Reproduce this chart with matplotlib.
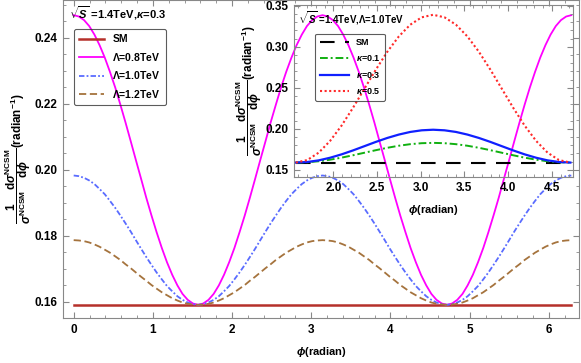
import matplotlib
matplotlib.use("Agg")
import matplotlib.pyplot as plt
from matplotlib.ticker import MultipleLocator

plt.rcParams['font.family'] = ['Liberation Sans', 'DejaVu Sans']
plt.rcParams['font.weight'] = 'bold'
plt.rcParams['mathtext.fontset'] = 'custom'
plt.rcParams['mathtext.rm'] = 'Liberation Sans:bold'
plt.rcParams['mathtext.it'] = 'Liberation Sans:italic:bold'
plt.rcParams['mathtext.bf'] = 'Liberation Sans:bold'

# phi values (radian)
phi = [0.000, 0.065, 0.131, 0.196, 0.262, 0.327, 0.393, 0.458, 0.524, 0.589, 0.654, 0.720,
       0.785, 0.851, 0.916, 0.982, 1.047, 1.113, 1.178, 1.244, 1.309, 1.374, 1.440, 1.505,
       1.571, 1.636, 1.702, 1.767, 1.833, 1.898, 1.963, 2.029, 2.094, 2.160, 2.225, 2.291,
       2.356, 2.422, 2.487, 2.553, 2.618, 2.683, 2.749, 2.814, 2.880, 2.945, 3.011, 3.076,
       3.142, 3.207, 3.272, 3.338, 3.403, 3.469, 3.534, 3.600, 3.665, 3.731, 3.796, 3.861,
       3.927, 3.992, 4.058, 4.123, 4.189, 4.254, 4.320, 4.385, 4.451, 4.516, 4.581, 4.647,
       4.712, 4.778, 4.843, 4.909, 4.974, 5.040, 5.105, 5.171, 5.236, 5.301, 5.367, 5.432,
       5.498, 5.563, 5.629, 5.694, 5.760, 5.825, 5.890, 5.956, 6.021, 6.087, 6.152, 6.218,
       6.283]

sm_main = [0.159] * len(phi)
lam08 = [0.2468, 0.2464, 0.2453, 0.2435, 0.2409, 0.2377, 0.2339, 0.2296, 0.2249, 0.2197, 0.2143, 0.2086,
         0.2029, 0.1972, 0.1915, 0.1861, 0.1810, 0.1762, 0.1719, 0.1681, 0.1649, 0.1623, 0.1605, 0.1594,
         0.1590, 0.1594, 0.1605, 0.1623, 0.1649, 0.1681, 0.1719, 0.1762, 0.1810, 0.1861, 0.1915, 0.1972,
         0.2029, 0.2086, 0.2143, 0.2197, 0.2249, 0.2296, 0.2339, 0.2377, 0.2409, 0.2435, 0.2453, 0.2464,
         0.2468, 0.2464, 0.2453, 0.2435, 0.2409, 0.2377, 0.2339, 0.2296, 0.2249, 0.2197, 0.2143, 0.2086,
         0.2029, 0.1972, 0.1915, 0.1861, 0.1810, 0.1762, 0.1719, 0.1681, 0.1649, 0.1623, 0.1605, 0.1594,
         0.1590, 0.1594, 0.1605, 0.1623, 0.1649, 0.1681, 0.1719, 0.1762, 0.1810, 0.1861, 0.1915, 0.1972,
         0.2029, 0.2086, 0.2143, 0.2197, 0.2249, 0.2296, 0.2339, 0.2377, 0.2409, 0.2435, 0.2453, 0.2464,
         0.2468]
lam10 = [0.1982, 0.1980, 0.1975, 0.1967, 0.1956, 0.1941, 0.1925, 0.1905, 0.1884, 0.1861, 0.1837, 0.1812,
         0.1786, 0.1760, 0.1735, 0.1711, 0.1688, 0.1667, 0.1647, 0.1631, 0.1616, 0.1605, 0.1597, 0.1592,
         0.1590, 0.1592, 0.1597, 0.1605, 0.1616, 0.1631, 0.1647, 0.1667, 0.1688, 0.1711, 0.1735, 0.1760,
         0.1786, 0.1812, 0.1837, 0.1861, 0.1884, 0.1905, 0.1925, 0.1941, 0.1956, 0.1967, 0.1975, 0.1980,
         0.1982, 0.1980, 0.1975, 0.1967, 0.1956, 0.1941, 0.1925, 0.1905, 0.1884, 0.1861, 0.1837, 0.1812,
         0.1786, 0.1760, 0.1735, 0.1711, 0.1688, 0.1667, 0.1647, 0.1631, 0.1616, 0.1605, 0.1597, 0.1592,
         0.1590, 0.1592, 0.1597, 0.1605, 0.1616, 0.1631, 0.1647, 0.1667, 0.1688, 0.1711, 0.1735, 0.1760,
         0.1786, 0.1812, 0.1837, 0.1861, 0.1884, 0.1905, 0.1925, 0.1941, 0.1956, 0.1967, 0.1975, 0.1980,
         0.1982]
lam12 = [0.1786, 0.1785, 0.1783, 0.1779, 0.1773, 0.1766, 0.1757, 0.1748, 0.1737, 0.1726, 0.1713, 0.1701,
         0.1688, 0.1675, 0.1663, 0.1650, 0.1639, 0.1628, 0.1619, 0.1610, 0.1603, 0.1597, 0.1593, 0.1591,
         0.1590, 0.1591, 0.1593, 0.1597, 0.1603, 0.1610, 0.1619, 0.1628, 0.1639, 0.1650, 0.1663, 0.1675,
         0.1688, 0.1701, 0.1713, 0.1726, 0.1737, 0.1748, 0.1757, 0.1766, 0.1773, 0.1779, 0.1783, 0.1785,
         0.1786, 0.1785, 0.1783, 0.1779, 0.1773, 0.1766, 0.1757, 0.1748, 0.1737, 0.1726, 0.1713, 0.1701,
         0.1688, 0.1675, 0.1663, 0.1650, 0.1639, 0.1628, 0.1619, 0.1610, 0.1603, 0.1597, 0.1593, 0.1591,
         0.1590, 0.1591, 0.1593, 0.1597, 0.1603, 0.1610, 0.1619, 0.1628, 0.1639, 0.1650, 0.1663, 0.1675,
         0.1688, 0.1701, 0.1713, 0.1726, 0.1737, 0.1748, 0.1757, 0.1766, 0.1773, 0.1779, 0.1783, 0.1785,
         0.1786]

# inset: pi/2 .. 3pi/2
phi_in = [1.571, 1.702, 1.833, 1.963, 2.094, 2.225, 2.356, 2.487, 2.618, 2.749, 2.880, 3.011,
          3.142, 3.272, 3.403, 3.534, 3.665, 3.796, 3.927, 4.058, 4.189, 4.320, 4.451, 4.581,
          4.712]
sm_in = [0.159] * len(phi_in)
kap01 = [0.1590, 0.1594, 0.1606, 0.1625, 0.1650, 0.1679, 0.1710, 0.1741, 0.1770, 0.1795, 0.1814, 0.1826,
         0.1830, 0.1826, 0.1814, 0.1795, 0.1770, 0.1741, 0.1710, 0.1679, 0.1650, 0.1625, 0.1606, 0.1594,
         0.1590]
kap03 = [0.1590, 0.1597, 0.1617, 0.1649, 0.1690, 0.1738, 0.1790, 0.1842, 0.1890, 0.1931, 0.1963, 0.1983,
         0.1990, 0.1983, 0.1963, 0.1931, 0.1890, 0.1842, 0.1790, 0.1738, 0.1690, 0.1649, 0.1617, 0.1597,
         0.1590]
kap05 = [0.1590, 0.1621, 0.1711, 0.1854, 0.2040, 0.2257, 0.2490, 0.2723, 0.2940, 0.3126, 0.3269, 0.3359,
         0.3390, 0.3359, 0.3269, 0.3126, 0.2940, 0.2723, 0.2490, 0.2257, 0.2040, 0.1854, 0.1711, 0.1621,
         0.1590]

W, H = 581, 363
fig = plt.figure(figsize=(W / 100, H / 100), dpi=100)

ylab = r'$\dfrac{1}{\sigma^{\mathrm{NCSM}}}\dfrac{\mathrm{d}\sigma^{\mathrm{NCSM}}}{\mathrm{d}\phi}$(radian$^{-1}$)'


def frame(ax, fs):
    for s in ax.spines.values():
        s.set_color('#888888')
        s.set_linewidth(0.8)
    ax.tick_params(which='both', direction='in', top=True, right=True, color='#888888',
                   labelsize=fs, pad=4)
    ax.tick_params(which='major', length=4)
    ax.tick_params(which='minor', length=2)
    for lb in ax.get_xticklabels() + ax.get_yticklabels():
        lb.set_fontweight('bold')


# main axes
ax = fig.add_axes([63 / W, 1 - 318 / H, 516 / W, 318 / H])
ax.plot(phi, sm_main, color='#b5302a', lw=1.8, label='SM')
ax.plot(phi, lam08, color='#ff00ff', lw=1.3, label=r'$\Lambda$=0.8TeV')
ax.plot(phi, lam10, color='#5a6cff', lw=1.3, dashes=(3, 1.2, 1, 1.2), label=r'$\Lambda$=1.0TeV')
ax.plot(phi, lam12, color='#a5733d', lw=1.3, dashes=(4, 2), label=r'$\Lambda$=1.2TeV')
ax.set_xlim(-0.135, 6.38)
ax.set_ylim(0.155, 0.2514)
ax.xaxis.set_major_locator(MultipleLocator(1))
ax.xaxis.set_minor_locator(MultipleLocator(0.2))
ax.yaxis.set_minor_locator(MultipleLocator(0.005))
ax.set_yticks([0.16, 0.18, 0.20, 0.22, 0.24])
ax.set_yticklabels(['0.16', '0.18', '0.20', '0.22', '0.24'])
frame(ax, 8.5)
ax.set_xlabel(r'$\phi$(radian)', fontsize=8, fontweight='bold', labelpad=7)
ax.set_ylabel(ylab, fontsize=8.5, fontweight='bold', labelpad=1)
ax.text(0.012, 0.958, r'$\sqrt{S}$ =1.4TeV,$\kappa$=0.3', transform=ax.transAxes,
        fontsize=8, fontweight='bold', va='center', ha='left')
leg = ax.legend(loc='upper left', bbox_to_anchor=(0.011, 0.925), fontsize=7.5,
                frameon=True, fancybox=True, facecolor='none', edgecolor='#333333',
                handlelength=2.4, labelspacing=0.62, borderpad=0.5, handletextpad=0.8)
leg.get_frame().set_linewidth(0.8)
for t in leg.get_texts():
    t.set_fontweight('bold')

# inset axes
ai = fig.add_axes([294 / W, 1 - 176.7 / H, 279 / W, 171.7 / H])
ai.patch.set_alpha(0)
ai.plot(phi_in, sm_in, color='black', lw=1.5, dashes=(7, 5), label='SM')
ai.plot(phi_in, kap01, color='#10b010', lw=1.4, dashes=(4, 1.5, 1, 1.5), label=r'$\kappa$=0.1')
ai.plot(phi_in, kap03, color='#1020ff', lw=1.6, label=r'$\kappa$=0.3')
ai.plot(phi_in, kap05, color='#ff2a2a', lw=1.5, dashes=(1, 1.2), label=r'$\kappa$=0.5')
ai.set_xlim(1.55, 4.742)
ai.set_ylim(0.1418, 0.3509)
ai.xaxis.set_major_locator(MultipleLocator(0.5))
ai.xaxis.set_minor_locator(MultipleLocator(0.1))
ai.yaxis.set_major_locator(MultipleLocator(0.05))
ai.yaxis.set_minor_locator(MultipleLocator(0.01))
frame(ai, 8.5)
ai.set_xlabel(r'$\phi$(radian)', fontsize=8, fontweight='bold', labelpad=6)
ai.set_ylabel(ylab, fontsize=8.5, fontweight='bold', labelpad=1)
ai.text(0.015, 0.925, r'$\sqrt{S}$ =1.4TeV,$\Lambda$=1.0TeV', transform=ai.transAxes,
        fontsize=7, fontweight='bold', va='center', ha='left')
leg2 = ai.legend(loc='upper left', bbox_to_anchor=(0.06, 0.86), fontsize=6.5,
                 frameon=True, fancybox=True, facecolor='none', edgecolor='#333333',
                 handlelength=3.2, labelspacing=0.7, borderpad=0.5, handletextpad=0.8)
leg2.get_frame().set_linewidth(0.8)
for t in leg2.get_texts():
    t.set_fontweight('bold')

fig.savefig('out.png', dpi=100)
